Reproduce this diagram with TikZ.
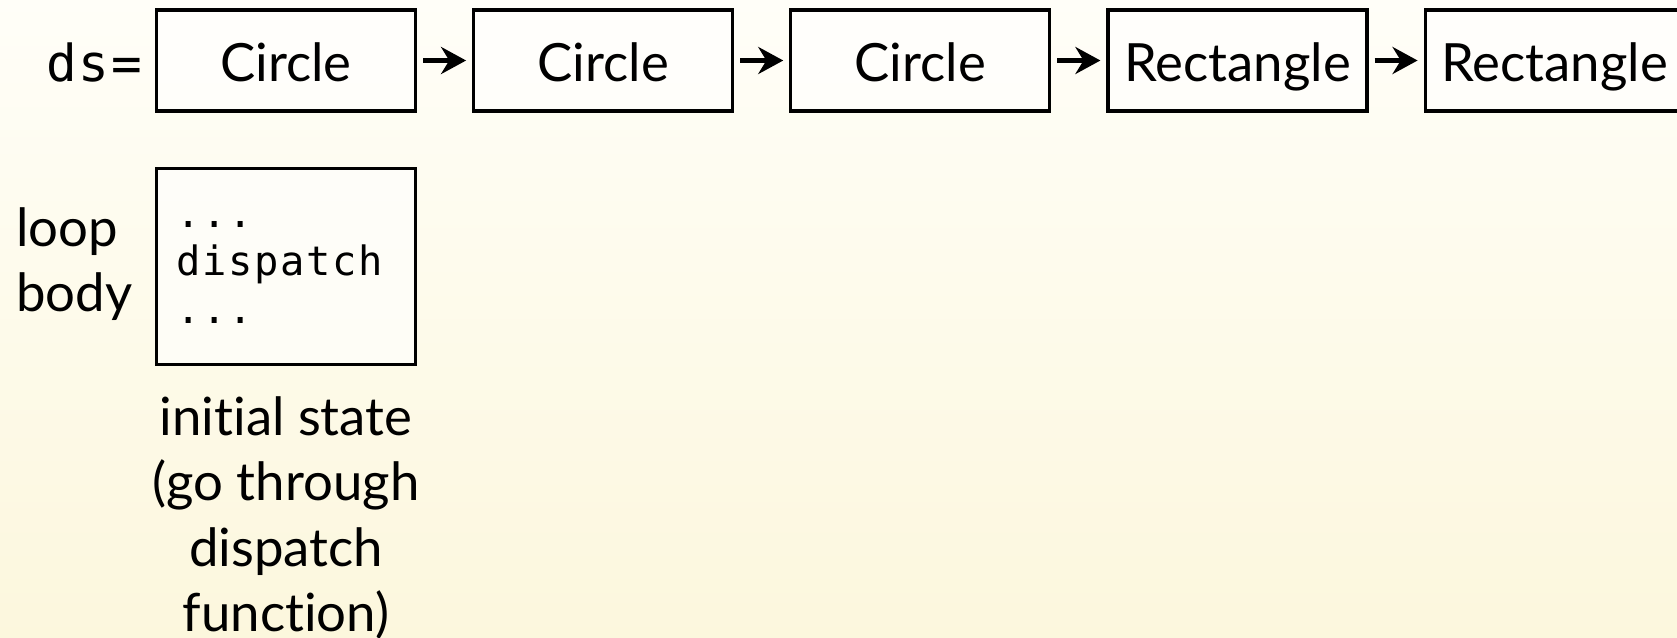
\documentclass[tikz,border=0pt]{standalone}
\usepackage{fontspec}
\setmainfont[Ligatures=NoCommon]{Lato}
\setmonofont[LetterSpace=4]{DejaVu Sans Mono}
\usetikzlibrary{positioning,arrows.meta}

\definecolor{bgtop}{RGB}{255,254,248}
\definecolor{bgbottom}{RGB}{252,247,221}

\tikzstyle{arrow} = [line width=1.4pt,-{Stealth[length=2.5mm,width=2.7mm]},
        shorten <=0.06cm, shorten >=0.06cm]
\tikzstyle{box} = [
        rectangle,
        minimum width=2.59cm,
        inner sep=0pt,
        draw=black,
        line width=0.9pt,
        fill=white,
        fill opacity=0.6,
        text opacity=1
    ]
\tikzstyle{cell} = [
        box,
        minimum height=1.01cm,
        text height=0.41cm,
        text depth=0pt,
        font=\fontsize{15}{18.5}\selectfont
    ]
\tikzstyle{body} = [
        box,
        minimum height=1.96cm,
        inner xsep=0.2cm,
        text width=2.19cm,
        align=left,
        font=\ttfamily\fontsize{11.5}{13.6}\selectfont
    ]
\tikzstyle{note} = [inner sep=0pt, font=\fontsize{15}{18.5}\selectfont]

\begin{document}
\begin{tikzpicture}[node distance=0.55cm]
    \clip (0,0) rectangle (16.77,-6.38);
    \shade [top color=bgtop, bottom color=bgbottom] (0,0) rectangle (16.77,-6.38);

    % the list of shapes
    \node [cell] (c1) at (2.86,-0.605) {Circle};
    \node [cell, right=of c1] (c2) {Circle};
    \node [cell, right=of c2] (c3) {Circle};
    \node [cell, right=of c3] (r1) {Rectangle};
    \node [cell, right=of r1] (r2) {Rectangle};
    \foreach \a/\b in {c1/c2, c2/c3, c3/r1, r1/r2}
        \draw [arrow] (\a) -- (\b);
    \node [note, anchor=base east] (ds) at ([xshift=-0.12cm]c1.base west)
        {\ttfamily\fontsize{14.5}{18}\selectfont ds=};

    % the loop body
    \node [body, below=0.54cm of c1] (loop) {\strut...\\\strut dispatch\\\strut...};
    \node [note, left=0.22cm of loop, align=left] (looplab) {\strut loop\\\strut body};
    \node [note, below=0.24cm of loop, align=center] (init)
        {\strut initial state\\\strut(go through\\\strut dispatch\\\strut function)};
\end{tikzpicture}
\end{document}
